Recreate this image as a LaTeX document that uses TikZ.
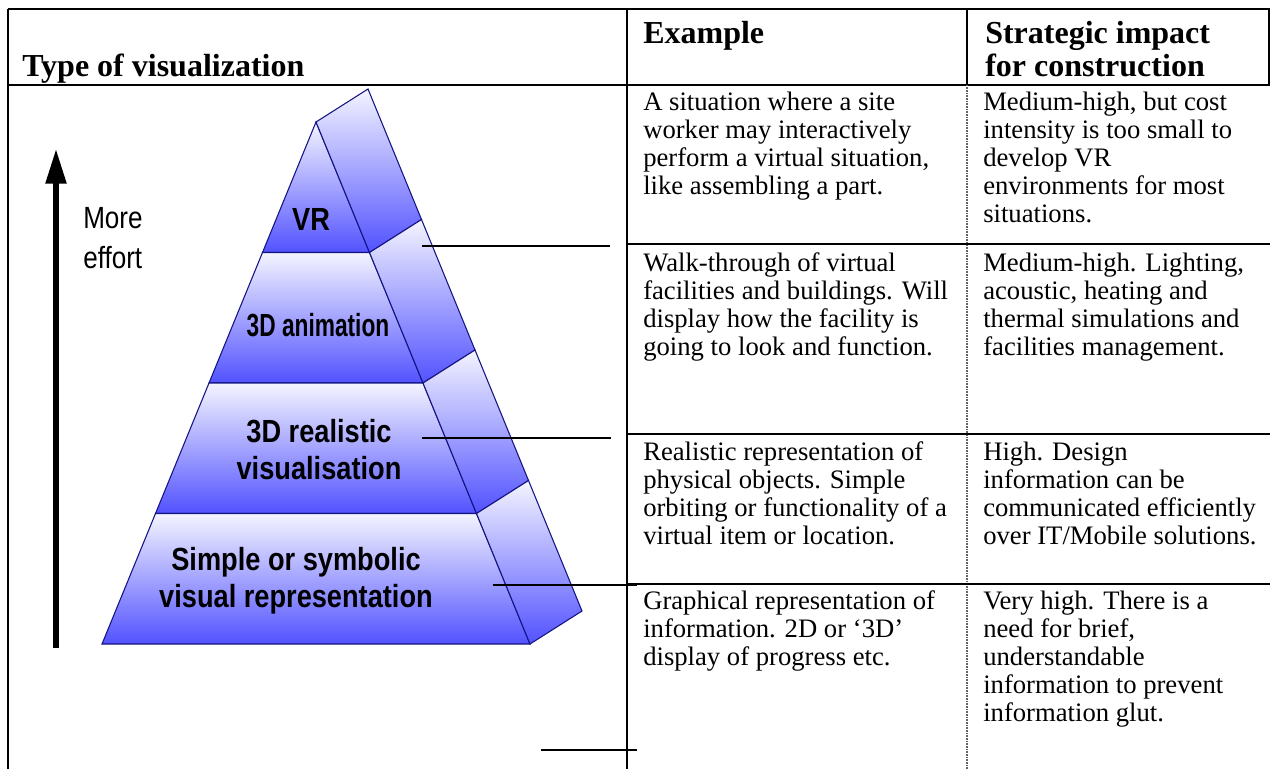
\documentclass[tikz,border=0pt]{standalone}
\usepackage{fontspec}
\setmainfont{Liberation Serif}
\newfontfamily\pyrfont[FakeStretch=0.85]{Liberation Sans}
\newfontfamily\pyrnarrow[FakeStretch=0.71]{Liberation Sans}
\usetikzlibrary{arrows.meta}
\definecolor{pyrtop}{RGB}{244,244,255}
\definecolor{pyrbot}{RGB}{82,82,255}
\definecolor{pyredge}{RGB}{20,20,130}
\definecolor{dotc}{RGB}{100,100,100}
\newcommand{\tstrut}[1]{\rule{0pt}{#1}}
\tikzset{
  tblline/.style={line width=2pt},
  dotrule/.style={line width=1.5pt, draw=dotc, dash pattern=on 0.6pt off 0.6pt},
  lead/.style={line width=2pt},
  face/.style={draw=pyredge, line width=0.8pt, top color=pyrtop, bottom color=pyrbot},
  lvl/.style={font=\pyrfont\bfseries\fontsize{24}{27.75}\selectfont, align=center, inner sep=0pt},
  head/.style={font=\bfseries\fontsize{24}{24.75}\selectfont, align=left,
               anchor=north west, inner sep=0pt, yshift=20pt},
  cell/.style={font=\fontsize{20}{21}\selectfont, align=left,
               anchor=north west, inner sep=0pt, yshift=16pt},
  efftext/.style={font=\pyrfont\fontsize{23}{30}\selectfont, align=left,
                  anchor=north west, inner sep=0pt, yshift=18pt},
  effarrow/.style={-{Triangle[length=26pt, width=15pt]}, line width=4pt},
}

\begin{document}
\begin{tikzpicture}[x=0.75pt, y=-0.75pt]
  \useasboundingbox (0,0) rectangle (1270,769);
  % table rules
  \draw[tblline] (8,9) -- (1270,9);
  \draw[tblline] (8,85) -- (1270,85);
  \draw[tblline] (8,9) -- (8,769);
  \draw[tblline] (627,9) -- (627,769);
  \draw[tblline] (967,9) -- (967,85);
  \draw[tblline] (1269,9) -- (1269,85);
  \draw[dotrule] (967,85) -- (967,769);
  \foreach \y in {244,434,584}
    \draw[tblline] (627,\y) -- (1270,\y);

  % pyramid, four levels from the top
  \foreach \k in {0,...,3}{
    \pgfmathsetmacro\ya{122+130.5*\k}
    \pgfmathsetmacro\yb{\ya+130.5}
    \pgfmathsetmacro\da{53.5*\k}
    \pgfmathsetmacro\db{\da+53.5}
    \path[face] (316-\da,\ya) -- (316+\da,\ya) -- (316+\db,\yb) -- (316-\db,\yb) -- cycle;
    \path[face] (316+\da,\ya) -- (368+\da,\ya-33) -- (368+\db,\yb-33) -- (316+\db,\yb) -- cycle;
  }
  \node[lvl] (vr) at (311,219) {VR};
  \node[lvl, font=\pyrnarrow\bfseries\fontsize{24}{27.75}\selectfont] (anim) at (318,325) {3D animation};
  \node[lvl] (real) at (319,450) {3D realistic\\visualisation};
  \node[lvl] (simp) at (296,581) {Simple or symbolic\\visual representation};

  % effort arrow
  \coordinate (effbot) at (56,648);
  \coordinate (efftop) at (56,149);
  \draw[effarrow] (effbot) -- (efftop);
  \node[efftext] (eff) at (83,228) {\tstrut{18pt}More\\effort};

  % leader lines to the rows
  \coordinate (l1a) at (422,246); \coordinate (l1b) at (610,246);
  \coordinate (l2a) at (422,438); \coordinate (l2b) at (611,438);
  \coordinate (l3a) at (493,585); \coordinate (l3b) at (637,585);
  \coordinate (l4a) at (541,750); \coordinate (l4b) at (637,750);
  \draw[lead] (l1a) -- (l1b);
  \draw[lead] (l2a) -- (l2b);
  \draw[lead] (l3a) -- (l3b);
  \draw[lead] (l4a) -- (l4b);

  % header
  \node[head] (hvis) at (22,76) {\tstrut{20pt}Type of visualization};
  \node[head] (hex) at (643,43) {\tstrut{20pt}Example};
  \node[head] (himp) at (985,43) {\tstrut{20pt}Strategic impact\\for construction};

  % rows
  \node[cell] (ex1) at (643,110) {\tstrut{16pt}A situation where a site\\worker may interactively\\perform a virtual situation,\\like assembling a part.};
  \node[cell] (im1) at (983,110) {\tstrut{16pt}Medium-high, but cost\\intensity is too small to\\develop VR\\environments for most\\situations.};
  \node[cell] (ex2) at (643,271) {\tstrut{16pt}Walk-through of virtual\\facilities and buildings. Will\\display how the facility is\\going to look and function.};
  \node[cell] (im2) at (983,271) {\tstrut{16pt}Medium-high. Lighting,\\acoustic, heating and\\thermal simulations and\\facilities management.};
  \node[cell] (ex3) at (643,460) {\tstrut{16pt}Realistic representation of\\physical objects. Simple\\orbiting or functionality of a\\virtual item or location.};
  \node[cell] (im3) at (983,460) {\tstrut{16pt}High. Design\\information can be\\communicated efficiently\\over IT/Mobile solutions.};
  \node[cell] (ex4) at (643,609) {\tstrut{16pt}Graphical representation of\\information. 2D or ‘3D’\\display of progress etc.};
  \node[cell] (im4) at (983,609) {\tstrut{16pt}Very high. There is a\\need for brief,\\understandable\\information to prevent\\information glut.};
\end{tikzpicture}
\end{document}
